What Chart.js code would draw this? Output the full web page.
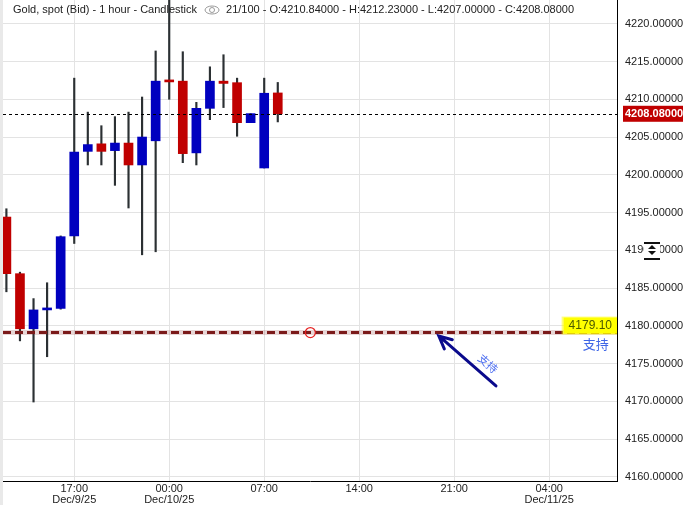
<!DOCTYPE html>
<html lang="en">
  <head>
    <meta charset="UTF-8" />
    <meta name="viewport" content="width=device-width, initial-scale=1.0" />
    <script src="https://cdn.jsdelivr.net/npm/chart.js@4.4.1/dist/chart.umd.min.js"></script>
    <title>Gold, spot (Bid) - 1 hour</title>
    <style>
      html, body { margin: 0; padding: 0; background: #fff; }
      #wrap { width: 687px; height: 505px; position: relative; }
    </style>
  </head>
  <body>
    <div id="wrap"><canvas id="myChart"></canvas></div>

    <script>
      // hours counted from Dec 9 00:00
      var hours = [12, 13, 14, 15, 16, 17, 18, 19, 20, 21, 22, 23, 24, 25, 26, 27, 28, 29, 30, 31, 32];
      var opens = [4194.4, 4186.9, 4179.6, 4182.1, 4182.3, 4191.9, 4203.1, 4204.1, 4203.2, 4204.2, 4201.3,
        4204.5, 4212.4, 4212.4, 4202.9, 4208.8, 4212.4, 4212.2, 4206.9, 4200.9, 4210.84];
      var highs = [4195.5, 4187.1, 4183.6, 4185.7, 4191.9, 4212.8, 4208.3, 4206.5, 4207.7, 4208.3, 4210.3,
        4216.4, 4223.6, 4216.3, 4209.6, 4214.3, 4215.9, 4212.8, 4208.1, 4212.8, 4212.23];
      var lows = [4184.5, 4178.0, 4169.9, 4175.9, 4182.2, 4190.9, 4201.3, 4201.3, 4198.6, 4195.6, 4189.4,
        4189.8, 4210.0, 4201.6, 4201.3, 4207.3, 4208.9, 4205.1, 4206.9, 4200.9, 4207.0];
      var closes = [4186.9, 4179.6, 4182.1, 4182.25, 4191.8, 4203.0, 4204.0, 4203.1, 4204.2, 4201.3, 4205.0,
        4212.4, 4212.3, 4202.8, 4208.8, 4212.4, 4212.1, 4206.9, 4208.1, 4210.8, 4208.08];

      var tickHours = [17, 24, 31, 38, 45, 52];
      var tickLabels = [["17:00", "Dec/9/25"], ["00:00", "Dec/10/25"], ["07:00"], ["14:00"], ["21:00"], ["04:00", "Dec/11/25"]];

      var titleText = "Gold, spot (Bid) - 1 hour - Candlestick";
      var infoText = "21/100 - O:4210.84000 - H:4212.23000 - L:4207.00000 - C:4208.08000";

      var supportLevel = 4179.10;
      var supportText = "支持";
      var circleAt = [34.4, 4179.1];
      var arrowTip = [43.87, 4178.65];
      var arrowTail = [48.08, 4172.03];
      var arrowTextAt = [47.5, 4175.0];
      var supportTextAt = [55.44, 4177.6];
      var iconLevel = 4190;

      var BLUE = "#0000bf";
      var RED = "#c00000";
      var FONT = "'Liberation Sans', Arial, sans-serif";

      var wickData = hours.map(function (h, i) { return { x: h, y: [lows[i], highs[i]] }; });
      var bodyData = hours.map(function (h, i) { return { x: h, y: [opens[i], closes[i]] }; });
      var bodyColors = hours.map(function (h, i) { return closes[i] >= opens[i] ? BLUE : RED; });

      var overlay = {
        id: "overlay",
        beforeDraw: function (chart) {
          var ctx = chart.ctx;
          ctx.save();
          ctx.fillStyle = "#e9e9e9";
          ctx.fillRect(0, 0, 3, chart.height);
          ctx.restore();
        },
        afterDatasetsDraw: function (chart) {
          var ctx = chart.ctx, xs = chart.scales.x, ys = chart.scales.y, a = chart.chartArea;
          ctx.save();
          ctx.beginPath();
          ctx.rect(a.left, a.top, a.right - a.left, a.bottom - a.top);
          ctx.clip();

          // current price line
          var py = Math.round(ys.getPixelForValue(closes[closes.length - 1])) + 0.5;
          ctx.strokeStyle = "#000";
          ctx.lineWidth = 1;
          ctx.setLineDash([3, 3]);
          ctx.beginPath();
          ctx.moveTo(a.left, py);
          ctx.lineTo(a.right, py);
          ctx.stroke();

          // support line
          var sy = ys.getPixelForValue(supportLevel);
          ctx.strokeStyle = "rgba(123,26,26,0.18)";
          ctx.lineWidth = 5;
          ctx.setLineDash([]);
          ctx.beginPath();
          ctx.moveTo(a.left, sy);
          ctx.lineTo(a.right, sy);
          ctx.stroke();
          ctx.strokeStyle = "#7b1a1a";
          ctx.lineWidth = 3;
          ctx.setLineDash([8, 4]);
          ctx.beginPath();
          ctx.moveTo(a.left, sy);
          ctx.lineTo(a.right, sy);
          ctx.stroke();
          ctx.setLineDash([]);

          // circle marker
          ctx.strokeStyle = "#e52222";
          ctx.lineWidth = 1.2;
          ctx.beginPath();
          ctx.arc(xs.getPixelForValue(circleAt[0]), ys.getPixelForValue(circleAt[1]), 5, 0, Math.PI * 2);
          ctx.stroke();

          // arrow
          var tx = xs.getPixelForValue(arrowTip[0]), ty = ys.getPixelForValue(arrowTip[1]);
          var bx = xs.getPixelForValue(arrowTail[0]), by = ys.getPixelForValue(arrowTail[1]);
          var ang = Math.atan2(by - ty, bx - tx);
          ctx.strokeStyle = "#0a0a8c";
          ctx.lineWidth = 3;
          ctx.lineCap = "round";
          ctx.beginPath();
          ctx.moveTo(bx, by);
          ctx.lineTo(tx, ty);
          ctx.moveTo(tx + 14 * Math.cos(ang - 0.45), ty + 14 * Math.sin(ang - 0.45));
          ctx.lineTo(tx, ty);
          ctx.lineTo(tx + 14 * Math.cos(ang + 0.45), ty + 14 * Math.sin(ang + 0.45));
          ctx.stroke();

          // arrow text
          ctx.save();
          ctx.translate(xs.getPixelForValue(arrowTextAt[0]), ys.getPixelForValue(arrowTextAt[1]));
          ctx.rotate(ang);
          ctx.fillStyle = "#4a6cf0";
          ctx.font = "11px 'Noto Sans CJK SC', sans-serif";
          ctx.textAlign = "center";
          ctx.textBaseline = "middle";
          ctx.fillText(supportText, 0, 0);
          ctx.restore();

          // support label
          ctx.font = "12px " + FONT;
          var lbl = supportLevel.toFixed(2);
          var lw = ctx.measureText(lbl).width;
          ctx.fillStyle = "rgba(255,255,0,0.5)";
          ctx.fillRect(a.right - lw - 12, sy - 16, lw + 12, 18);
          ctx.fillStyle = "#ffff00";
          ctx.fillRect(a.right - lw - 10, sy - 15, lw + 10, 16);
          ctx.fillStyle = "#4b5a00";
          ctx.textAlign = "right";
          ctx.textBaseline = "middle";
          ctx.fillText(lbl, a.right - 5, sy - 7);

          ctx.fillStyle = "#3f66e6";
          ctx.font = "13px 'Noto Sans CJK SC', sans-serif";
          ctx.textAlign = "center";
          ctx.fillText(supportText, xs.getPixelForValue(supportTextAt[0]), ys.getPixelForValue(supportTextAt[1]));
          ctx.restore();
        },
        afterDraw: function (chart) {
          var ctx = chart.ctx, ys = chart.scales.y, a = chart.chartArea;
          ctx.save();

          // header
          ctx.font = "11px " + FONT;
          ctx.fillStyle = "#222";
          ctx.textBaseline = "middle";
          ctx.textAlign = "left";
          ctx.fillText(titleText, 13, 10);
          var ex = 13 + ctx.measureText(titleText).width + 15;
          ctx.strokeStyle = "#999";
          ctx.lineWidth = 1;
          ctx.beginPath();
          ctx.ellipse(ex, 10, 7, 4, 0, 0, Math.PI * 2);
          ctx.stroke();
          ctx.beginPath();
          ctx.arc(ex, 10, 2.5, 0, Math.PI * 2);
          ctx.stroke();
          ctx.fillText(infoText, ex + 14, 10);

          // price tag
          var py = ys.getPixelForValue(closes[closes.length - 1]);
          ctx.fillStyle = RED;
          ctx.fillRect(a.right + 6, py - 8, 60, 16);
          ctx.fillStyle = "#fff";
          ctx.font = "bold 11px " + FONT;
          ctx.fillText(closes[closes.length - 1].toFixed(5), a.right + 8, py + 0.5);

          // scale handle icon
          var iy = Math.round(ys.getPixelForValue(iconLevel));
          var ix = a.right + 35;
          ctx.fillStyle = "#fff";
          ctx.fillRect(ix - 8, iy - 6, 16, 12);
          ctx.fillStyle = "#111";
          ctx.fillRect(ix - 8, iy - 8, 16, 2);
          ctx.fillRect(ix - 8, iy + 8, 16, 2);
          ctx.beginPath();
          ctx.moveTo(ix, iy - 5);
          ctx.lineTo(ix + 4, iy - 1);
          ctx.lineTo(ix - 4, iy - 1);
          ctx.closePath();
          ctx.moveTo(ix, iy + 5);
          ctx.lineTo(ix + 4, iy + 1);
          ctx.lineTo(ix - 4, iy + 1);
          ctx.closePath();
          ctx.fill();
          ctx.restore();
        }
      };

      var c = new Chart("myChart", {
        type: "bar",
        data: {
          datasets: [
            {
              data: bodyData,
              backgroundColor: bodyColors,
              barThickness: 9,
              minBarLength: 2,
              grouped: false,
              order: 0,
            },
            {
              data: wickData,
              backgroundColor: "#2b3033",
              barThickness: 1.5,
              grouped: false,
              order: 1,
            },
          ],
        },
        options: {
          responsive: true,
          maintainAspectRatio: false,
          animation: false,
          layout: { padding: { left: 3, top: 0, right: 0, bottom: 0 } },
          plugins: { legend: { display: false }, tooltip: { enabled: false } },
          scales: {
            x: {
              type: "linear",
              min: 11.75,
              max: 57,
              offset: false,
              afterBuildTicks: function (scale) {
                scale.ticks = tickHours.map(function (v) { return { value: v }; });
              },
              afterFit: function (scale) {
                scale.height = 24;
                scale.paddingLeft = 0;
                scale.paddingRight = 0;
              },
              grid: { color: "#e3e3e3", drawTicks: false, offset: false },
              border: { color: "#000", width: 1 },
              ticks: {
                autoSkip: false,
                maxRotation: 0,
                padding: 2,
                color: "#222",
                font: { family: "'Liberation Sans Narrow', 'Liberation Sans', Arial", size: 11, lineHeight: 1 },
                callback: function (v) {
                  var k = tickHours.indexOf(v);
                  return k >= 0 ? tickLabels[k] : "";
                },
              },
            },
            y: {
              position: "right",
              min: 4159.44,
              max: 4223.15,
              afterBuildTicks: function (scale) {
                var t = [];
                for (var v = 4160; v <= 4220; v += 5) t.push({ value: v });
                scale.ticks = t;
              },
              afterFit: function (scale) {
                scale.width = 70;
                scale.paddingTop = 0;
                scale.paddingBottom = 0;
              },
              grid: { color: "#e3e3e3", drawTicks: false },
              border: { color: "#000", width: 1 },
              ticks: {
                padding: 8,
                color: "#222",
                font: { family: FONT, size: 11 },
                callback: function (v) { return Number(v).toFixed(5); },
              },
            },
          },
        },
        plugins: [overlay],
      });
    </script>
  </body>
</html>
